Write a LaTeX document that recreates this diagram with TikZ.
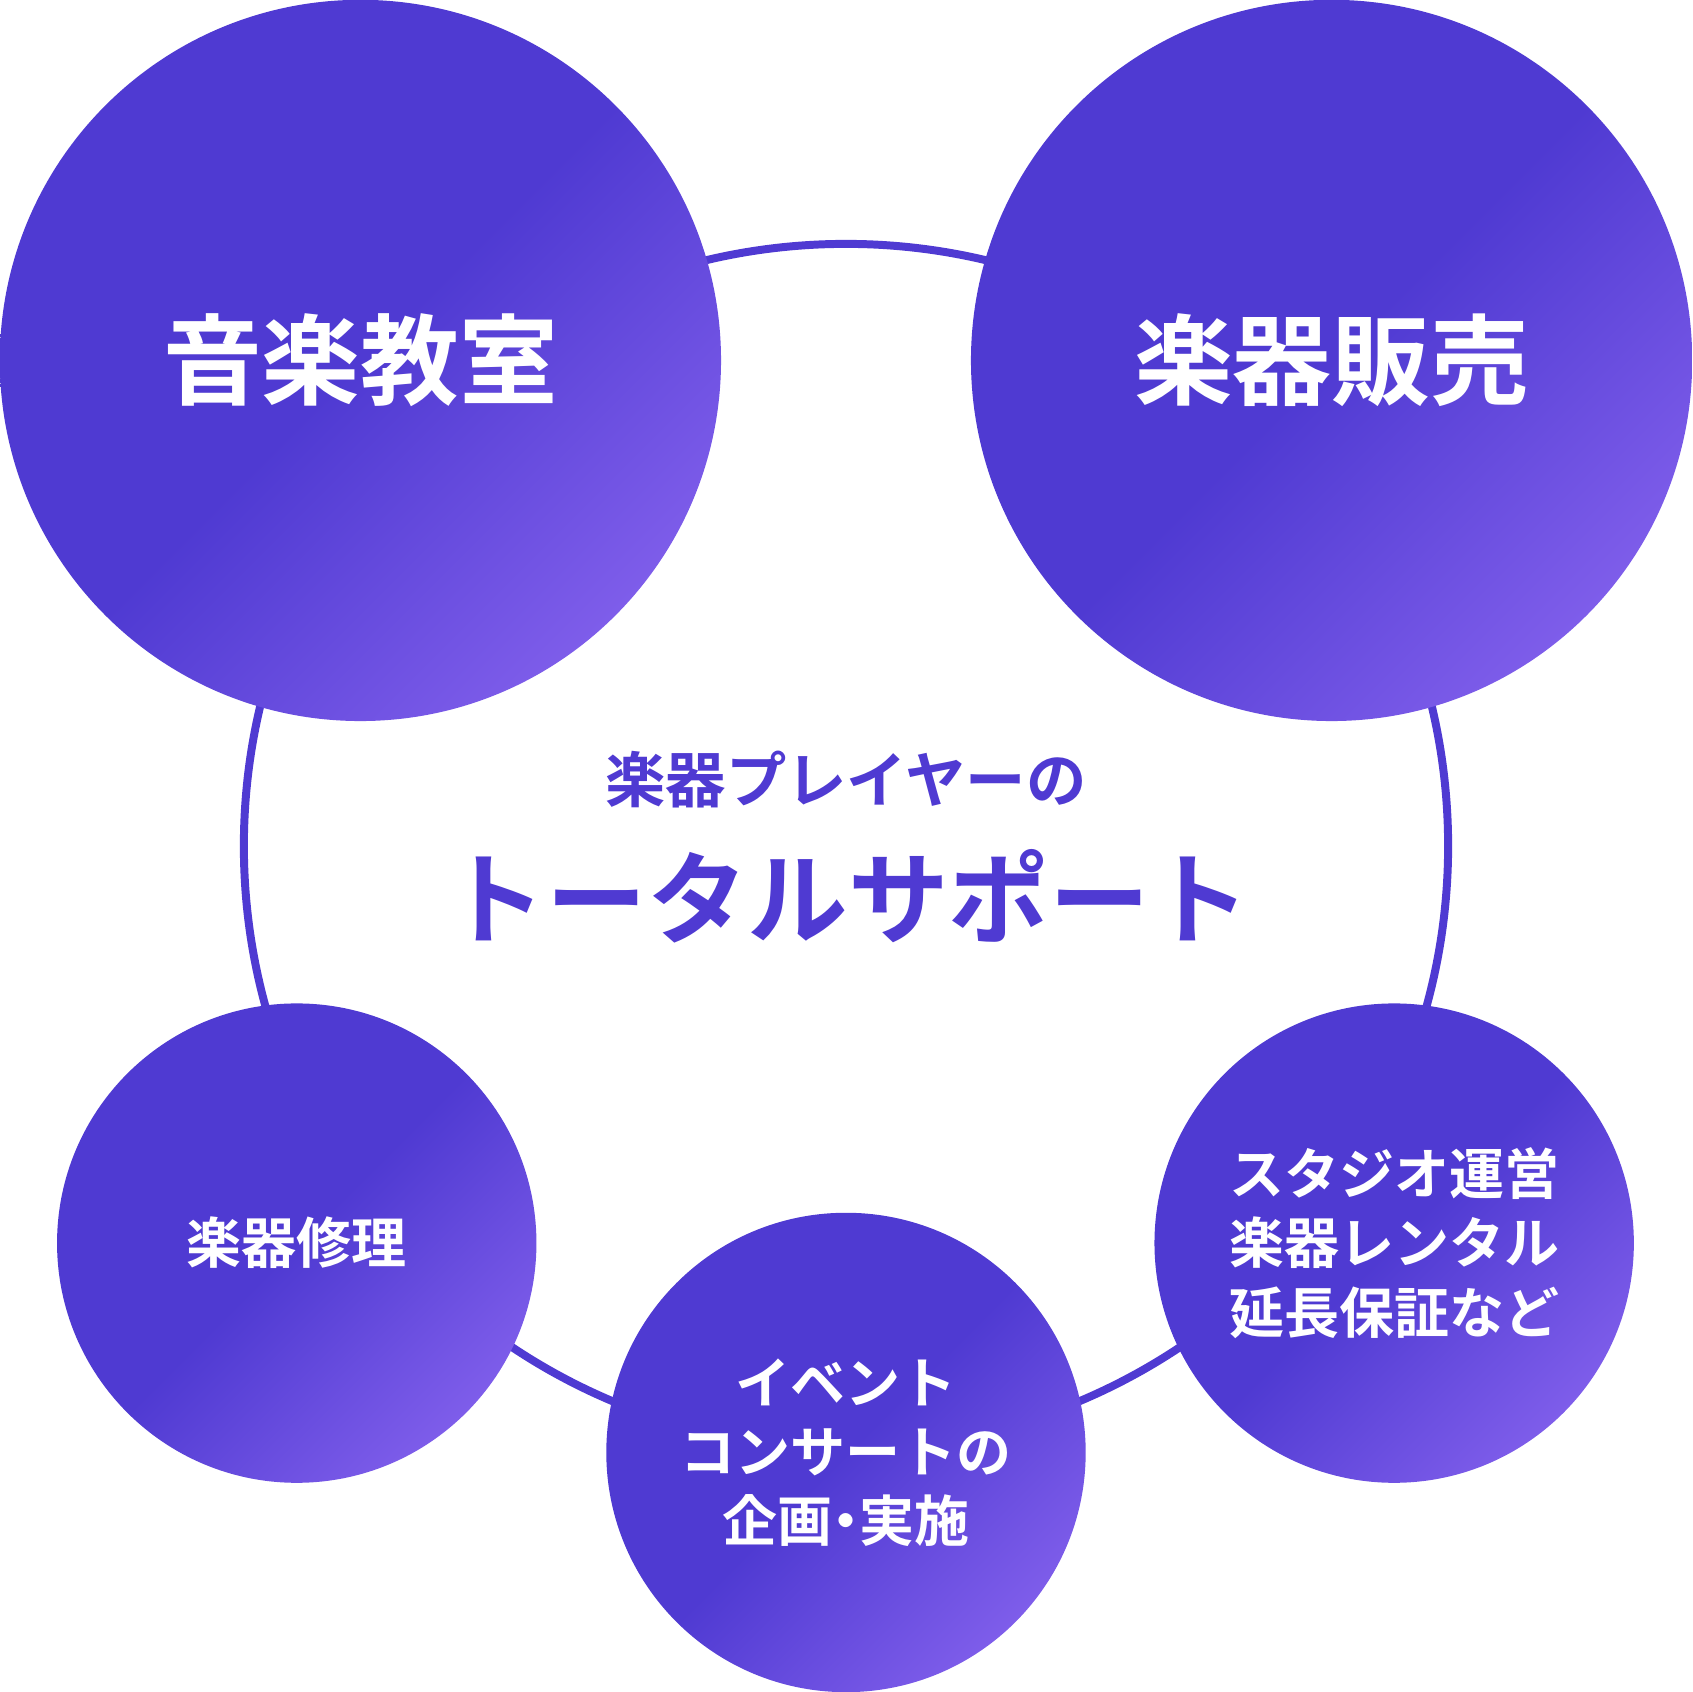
\documentclass[tikz,border=0pt]{standalone}
\usepackage{fontspec}
\usepackage{tikz}
\newfontfamily\jpfont{Noto Sans CJK JP Bold}
\definecolor{ringpurple}{HTML}{4F3AD2}
\definecolor{lightpurple}{HTML}{7E5DEA}
\pgfdeclareverticalshading{bubbleshade}{100bp}{color(0bp)=(lightpurple); color(25bp)=(lightpurple); color(50bp)=(ringpurple); color(100bp)=(ringpurple)}

\begin{document}
\begin{tikzpicture}[x=0.01cm,y=-0.01cm,
  bubble/.style={circle,shading=bubbleshade,shading angle=45,text=white,align=center,inner sep=0pt}]
\useasboundingbox (0,0) rectangle (1568,1568);
\draw[ringpurple,line width=2.1pt] (784,784) circle (558);

\node[bubble,minimum size=6.68cm,font=\jpfont\fontsize{26pt}{30pt}\selectfont] (school) at (334,334) {\raisebox{-12pt}{音楽教室}};
\node[bubble,minimum size=6.68cm,font=\jpfont\fontsize{26pt}{30pt}\selectfont] (sales) at (1234,334) {\raisebox{-12pt}{楽器販売}};

\node[bubble,minimum size=4.44cm,font=\jpfont\fontsize{14.5pt}{18.2pt}\selectfont] (repair) at (275,1152) {楽器修理};
\node[bubble,minimum size=4.44cm,font=\jpfont\fontsize{14.5pt}{18.2pt}\selectfont] (event) at (784,1346) {イベント\\コンサートの\\企画\kern-0.25em・\kern-0.25em 実施};
\node[bubble,minimum size=4.44cm,font=\jpfont\fontsize{14.5pt}{18.2pt}\selectfont] (studio) at (1292,1152) {スタジオ運営\\楽器レンタル\\延長保証など};

\node[text=ringpurple,font=\jpfont\fontsize{15.9pt}{18pt}\selectfont] (player) at (784,722) {楽器プレイヤーの};
\node[text=ringpurple,font=\jpfont\fontsize{26.5pt}{30pt}\selectfont] (total) at (786,831) {トータルサポート};
\end{tikzpicture}
\end{document}
